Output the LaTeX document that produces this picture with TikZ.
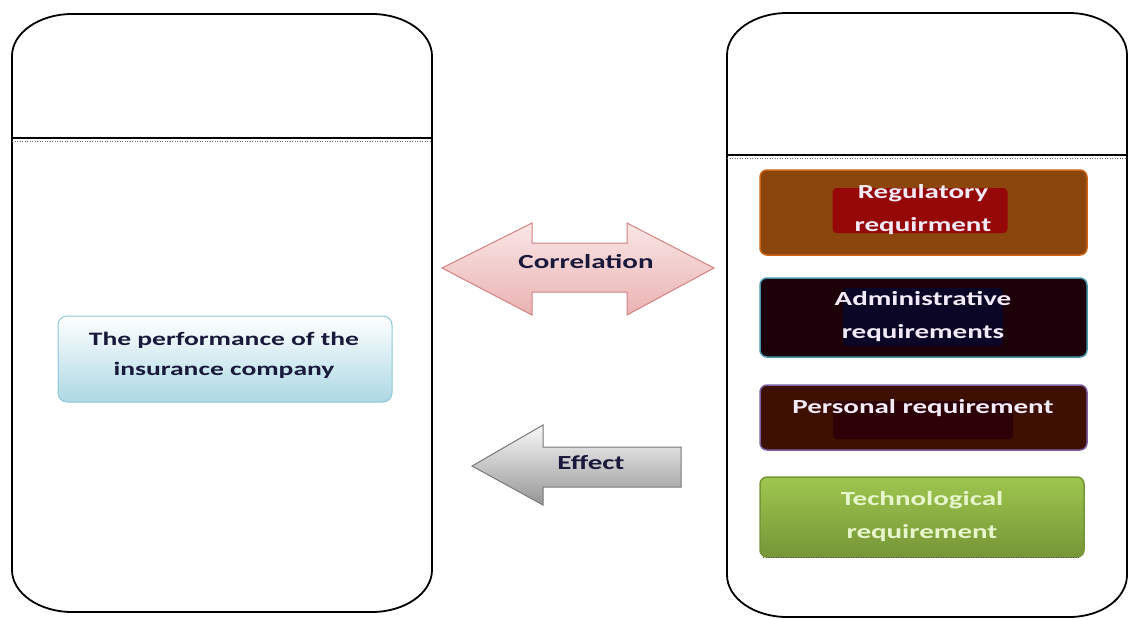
\documentclass[tikz,border=0pt]{standalone}
\usepackage{fontspec}
\newfontfamily\diafont{Carlito}[FakeStretch=1.45]
\definecolor{regout}{RGB}{138,70,12}
\definecolor{regbd}{RGB}{205,100,20}
\definecolor{regin}{RGB}{150,8,8}
\definecolor{admfill}{RGB}{28,0,10}
\definecolor{admin}{RGB}{12,6,38}
\definecolor{admbd}{RGB}{70,150,170}
\definecolor{perfill}{RGB}{62,16,2}
\definecolor{perin}{RGB}{44,0,6}
\definecolor{perbd}{RGB}{125,95,165}
\definecolor{tectop}{RGB}{158,198,78}
\definecolor{tecbot}{RGB}{118,150,55}
\definecolor{tectext}{RGB}{232,246,205}
\definecolor{wtext}{RGB}{242,234,246}
\definecolor{navy}{RGB}{25,25,60}
\definecolor{perfbot}{RGB}{172,216,228}
\definecolor{perfbd}{RGB}{140,200,215}
\definecolor{cortop}{RGB}{250,230,230}
\definecolor{corbot}{RGB}{234,178,178}
\definecolor{corbd}{RGB}{210,130,130}
\definecolor{efftop}{RGB}{248,248,248}
\definecolor{effbot}{RGB}{150,150,150}
\definecolor{effbd}{RGB}{120,120,120}
\begin{document}
\begin{tikzpicture}[x=1pt,y=-1pt,
  cont/.style={line width=1.8pt, draw=black},
  divline/.style={line width=1.6pt, draw=black},
  dotline/.style={line width=0.8pt, draw=black!60, dash pattern=on 1pt off 1.5pt},
  rbox/.style={rounded corners=7pt, minimum width=327pt, inner sep=0pt, line width=1.5pt},
  inbox/.style={rounded corners=4pt, inner sep=0pt},
  dtext/.style={font=\diafont\bfseries\fontsize{20}{33}\selectfont, align=center, inner sep=0pt},
  ltext/.style={font=\diafont\bfseries\fontsize{19}{30}\selectfont, align=center, inner sep=0pt},
]
\useasboundingbox (0,0) rectangle (1129,619);

% left container
\draw[cont] (12,56) .. controls (12,33) and (39,14) .. (72,14) -- (372,14)
  .. controls (405,14) and (432,33) .. (432,56) -- (432,570)
  .. controls (432,593) and (405,612) .. (372,612) -- (72,612)
  .. controls (39,612) and (12,593) .. (12,570) -- cycle;
\coordinate (ldl) at (12,138);
\coordinate (ldr) at (432,138);
\draw[divline] (ldl) -- (ldr);
\draw[dotline] ([yshift=-3pt]ldl) -- ([yshift=-3pt]ldr);

% right container
\draw[cont] (727,55) .. controls (727,32) and (754,13) .. (787,13) -- (1069,13)
  .. controls (1102,13) and (1127,32) .. (1127,55) -- (1127,575)
  .. controls (1127,598) and (1102,617) .. (1069,617) -- (787,617)
  .. controls (754,617) and (727,598) .. (727,575) -- cycle;
\coordinate (rdl) at (727,155);
\coordinate (rdr) at (1127,155);
\draw[divline] (rdl) -- (rdr);
\draw[dotline] ([yshift=-3pt]rdl) -- ([yshift=-3pt]rdr);

% left inner box
\node[rounded corners=9pt, minimum width=334pt, minimum height=86pt, inner sep=0pt,
      top color=white, bottom color=perfbot, draw=perfbd, line width=1pt] (perf) at (225,359) {};
\node[ltext, text=navy] (perft) at (224,355) {The performance of the\\insurance company};

% correlation double arrow
\shade[top color=cortop, bottom color=corbot, draw=corbd, line width=1pt]
  (442,268) -- (532,223) -- (532,243) -- (627,243) -- (627,223) -- (714,268)
  -- (627,315) -- (627,292) -- (532,292) -- (532,315) -- cycle;
\node[dtext, text=navy] (corr) at (586,262) {Correlation};

% effect arrow
\shade[top color=efftop, bottom color=effbot, draw=effbd, line width=1pt]
  (472,466) -- (543,425) -- (543,447) -- (681,447) -- (681,487) -- (543,487) -- (543,505) -- cycle;
\node[dtext, text=navy] (eff) at (591,463) {Effect};

% right boxes
\node[rbox, fill=regout, draw=regbd, minimum height=85pt] (reg) at (923.5,212.5) {};
\node[inbox, fill=regin, minimum width=175pt, minimum height=45pt] (regi) at (920,210.5) {};
\node[dtext, text=wtext] (regt) at (923,210) {Regulatory\\requirment};

\node[rbox, fill=admfill, draw=admbd, minimum height=79pt] (adm) at (923.5,317.5) {};
\node[inbox, fill=admin, minimum width=160pt, minimum height=58pt] (admi) at (923,317) {};
\node[dtext, text=wtext] (admt) at (923,316.5) {Administrative\\requirements};

\node[rbox, fill=perfill, draw=perbd, minimum height=65pt] (pers) at (923.5,417.5) {};
\node[inbox, fill=perin, minimum width=180pt, minimum height=38pt] (persi) at (923,420) {};
\node[dtext, text=wtext] (perst) at (923,408) {Personal requirement};

\node[rbox, top color=tectop, bottom color=tecbot, draw=tecbot, minimum width=324pt, minimum height=80pt] (tech) at (922,517) {};
\draw[dotline, draw=black!70] ([xshift=4pt]tech.south west) -- ([xshift=-4pt]tech.south east);
\node[dtext, text=tectext] (techt) at (922,516.5) {Technological\\requirement};
\end{tikzpicture}
\end{document}
